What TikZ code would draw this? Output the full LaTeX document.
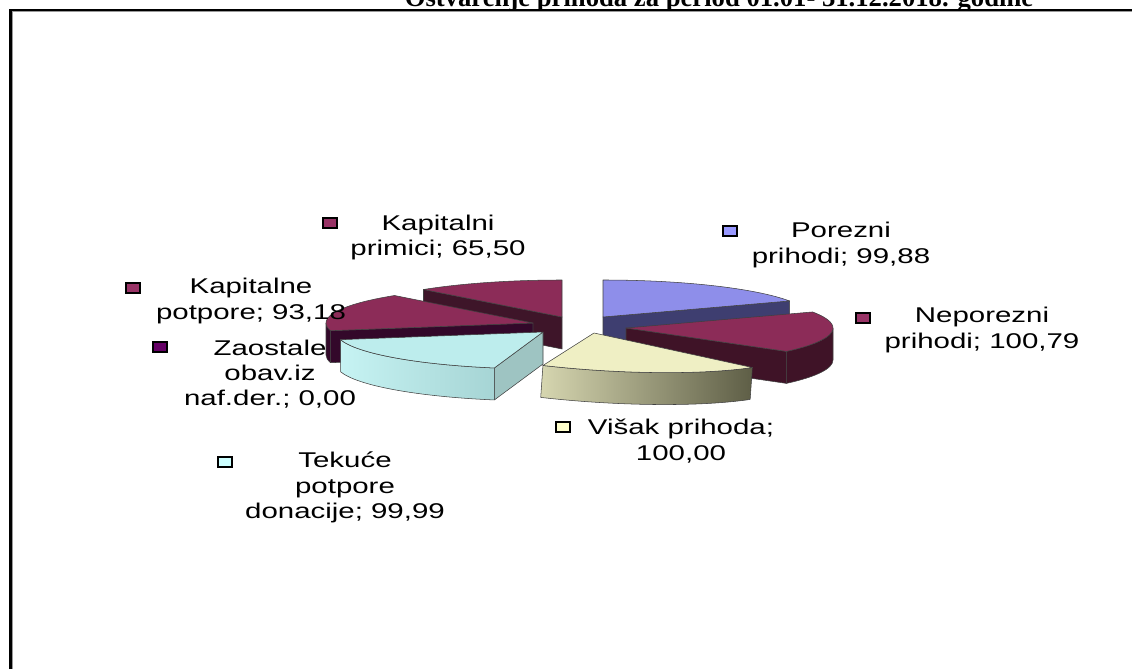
\documentclass[tikz,border=0pt]{standalone}
\usepackage{fontspec}
\setmainfont{Liberation Serif}
\newfontfamily\lgfam[FakeStretch=1.38]{Liberation Sans}
\usetikzlibrary{positioning}

\definecolor{mrTop}{HTML}{8C2C58}
\definecolor{kprSide}{HTML}{3E1529}
\definecolor{kpoSide}{HTML}{33082A}
\definecolor{nepSide}{HTML}{3F1327}
\definecolor{porTop}{HTML}{8E8EEA}
\definecolor{porSide}{HTML}{3E3E70}
\definecolor{tekTop}{HTML}{BDEDED}
\definecolor{tekL}{HTML}{C6F3F3}
\definecolor{tekR}{HTML}{9CCBCB}
\definecolor{tekSide}{HTML}{9EC4C2}
\definecolor{visTop}{HTML}{EFEFC4}
\definecolor{visL}{HTML}{D6D6B0}
\definecolor{visR}{HTML}{5E5E46}
\definecolor{kapCol}{HTML}{993366}
\definecolor{porCol}{HTML}{9999FF}
\definecolor{visCol}{HTML}{FFFFCC}
\definecolor{tekCol}{HTML}{CCFFFF}
\definecolor{zaoCol}{HTML}{660066}

\begin{document}
\begin{tikzpicture}[x=0.75pt,y=0.75pt,x radius=207,y radius=37,
    face/.style={draw=black!75,line width=0.4pt,line join=round},
    lgbox/.style={draw=black,line width=1.5pt,minimum width=10.5pt,minimum height=7pt,inner sep=0pt},
    lgtext/.style={font=\lgfam\fontsize{16}{19}\selectfont,align=center,inner sep=0pt},
    ttl/.style={font=\bfseries\fontsize{20}{24}\selectfont,anchor=base,inner sep=0pt}]
    \clip (0,0) rectangle (1132,669);
    \fill[white] (0,0) rectangle (1132,669);
    \node[ttl] (title) at (719,662.5) {Ostvarenje prihoda za period 01.01- 31.12.2018. godine};
    \draw[line width=1.9pt] (10.5,0) -- (10.5,659) -- (1132,659);
    \draw[black!40,line width=0.8pt] (12.8,0) -- (12.8,657.2) -- (1132,657.2);

    \coordinate (kpr) at (562,352);
    \filldraw[face,fill=kprSide] (kpr) -- ++(132:207 and 37) -- ++(0,-32) -- ++(312:207 and 37) -- cycle;
    \filldraw[face,fill=mrTop] (kpr) -- ++(132:207 and 37) arc[start angle=132,end angle=90] -- cycle;

    \coordinate (por) at (603,352);
    \filldraw[face,fill=porSide] (por) -- ++(25.7:207 and 37) -- ++(0,-32) -- ++(205.7:207 and 37) -- cycle;
    \filldraw[face,fill=porTop] (por) -- ++(90:207 and 37) arc[start angle=90,end angle=25.7] -- cycle;

    \coordinate (kpo) at (533,346);
    \filldraw[face,fill=kpoSide] (kpo) -- ++(192:207 and 37) -- ++(0,-32) -- ++(12:207 and 37) -- cycle;
    \filldraw[face,fill=kpoSide] (kpo) ++(192:207 and 37) arc[start angle=192,end angle=180] -- ++(0,-32) arc[start angle=180,end angle=192] -- cycle;
    \filldraw[face,fill=mrTop] (kpo) -- ++(192:207 and 37) arc[start angle=192,end angle=132] -- cycle;

    \coordinate (nep) at (626,341);
    \filldraw[face,fill=nepSide] (nep) -- ++(-39.2:207 and 37) -- ++(0,-32) -- ++(140.8:207 and 37) -- cycle;
    \filldraw[face,fill=nepSide] (nep) ++(0:207 and 37) arc[start angle=0,end angle=-39.2] -- ++(0,-32) arc[start angle=-39.2,end angle=0] -- cycle;
    \filldraw[face,fill=mrTop] (nep) -- ++(25.7:207 and 37) arc[start angle=25.7,end angle=-39.2] -- cycle;

    \coordinate (tek) at (543,337);
    \filldraw[face,fill=tekSide] (tek) -- ++(-103.6:207 and 37) -- ++(0,-32) -- ++(76.4:207 and 37) -- cycle;
    \shadedraw[face,left color=tekL,right color=tekR] (tek) ++(-103.6:207 and 37) arc[start angle=-103.6,end angle=-168] -- ++(0,-32) arc[start angle=-168,end angle=-103.6] -- cycle;
    \filldraw[face,fill=tekTop] (tek) -- ++(-103.6:207 and 37) arc[start angle=-103.6,end angle=-168] -- cycle;

    \coordinate (vis) at (594,336);
    \begin{scope}[rotate around={-4:(vis)}]
    \shadedraw[face,left color=visL,right color=visR] (vis) ++(-39.2:207 and 37) arc[start angle=-39.2,end angle=-103.6] -- ++(0,-32) arc[start angle=-103.6,end angle=-39.2] -- cycle;
    \filldraw[face,fill=visTop] (vis) -- ++(-39.2:207 and 37) arc[start angle=-39.2,end angle=-103.6] -- cycle;
    \end{scope}

    \node[lgbox,fill=kapCol] (mkpr) at (330,446) {};
    \node[lgtext] (lkpr) at (438,431.5) {Kapitalni\\primici; 65,50};
    \node[lgbox,fill=porCol] (mpor) at (730,438) {};
    \node[lgtext] (lpor) at (841,424) {Porezni\\prihodi; 99,88};
    \node[lgbox,fill=kapCol] (mnep) at (863,351) {};
    \node[lgtext] (lnep) at (982,339) {Neporezni\\prihodi; 100,79};
    \node[lgbox,fill=kapCol] (mkpo) at (133,381) {};
    \node[lgtext] (lkpo) at (251,368) {Kapitalne\\potpore; 93,18};
    \node[lgbox,fill=zaoCol] (mzao) at (160,322) {};
    \node[lgtext] (lzao) at (270,295) {Zaostale\\obav.iz\\naf.der.; 0,00};
    \node[lgbox,fill=tekCol] (mtek) at (225,207) {};
    \node[lgtext] (ltek) at (345,181.5) {Tekuće\\potpore\\donacije; 99,99};
    \node[lgbox,fill=visCol] (mvis) at (563,242) {};
    \node[lgtext] (lvis) at (681,228) {Višak prihoda;\\100,00};
\end{tikzpicture}
\end{document}
